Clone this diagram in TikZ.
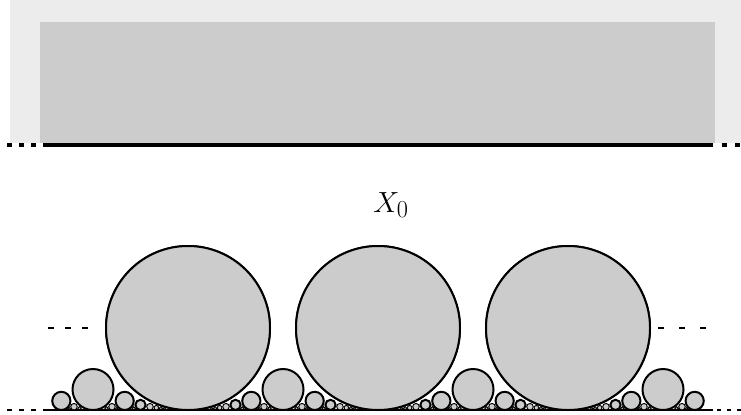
\documentclass[tikz,border=0pt]{standalone}
\usepackage{tikz}
\usetikzlibrary{positioning}
\definecolor{fordgray}{RGB}{204,204,204}
\definecolor{hazegray}{RGB}{236,236,236}

\begin{document}
\begin{tikzpicture}[x=0.03cm,y=0.03cm,
  disk/.style={draw=black,fill=fordgray,line width=1.7pt},
  tinydisk/.style={draw=black,fill=fordgray,line width=0.8pt},
  rim/.style={line width=2.6pt},
  floorline/.style={line width=1pt},
  gapdash/.style={line width=1pt}]
  \useasboundingbox (0,0) rectangle (741,414);
  % upper half plane
  \fill[hazegray] (10,414) rectangle (741,271);
  \fill[fordgray] (40,392) rectangle (715,271);
  \draw[rim] (43,269) -- (713,269);
  \foreach \a in {7,19,31} \draw[rim] (\a,269) -- ++(5,0);
  \foreach \a in {722,735} \draw[rim] (\a,269) -- ++(5,0);
  \node[font=\fontsize{29}{34}\selectfont] (xzero) at (391,209) {$X_0$};
  % ford circles, radii shrunk
  \draw[floorline] (43,4) -- (713,4);
  \foreach \a in {7,19,31} \draw[floorline] (\a,4) -- ++(5,0);
  \foreach \a in {717,727,737} \draw[floorline] (\a,4) -- ++(4,0);
  \foreach \q in {1,...,8}{
    \foreach \p in {0,...,\q}{
      \pgfmathtruncatemacro\g{gcd(\p,\q)}
      \ifnum\g=1
        \foreach \k in {-1,0,1,2}{
          \pgfmathsetmacro\t{\k+\p/\q}
          \pgfmathtruncatemacro\ok{and(\t>-0.67,\t<2.67)}
          \ifnum\ok=1
            \pgfmathsetmacro\r{82/(\q*\q)}
            \pgfmathsetmacro\cx{188+190*\t}
            \ifnum\q<5
              \draw[disk] (\cx,4+\r) circle[radius=\r];
            \else
              \draw[tinydisk] (\cx,4+\r) circle[radius=\r];
            \fi
          \fi}
      \fi}}
  % dots beside the row
  \foreach \a in {48,65,82,658,679,700} \draw[gapdash] (\a,86) -- ++(6,0);
\end{tikzpicture}
\end{document}
